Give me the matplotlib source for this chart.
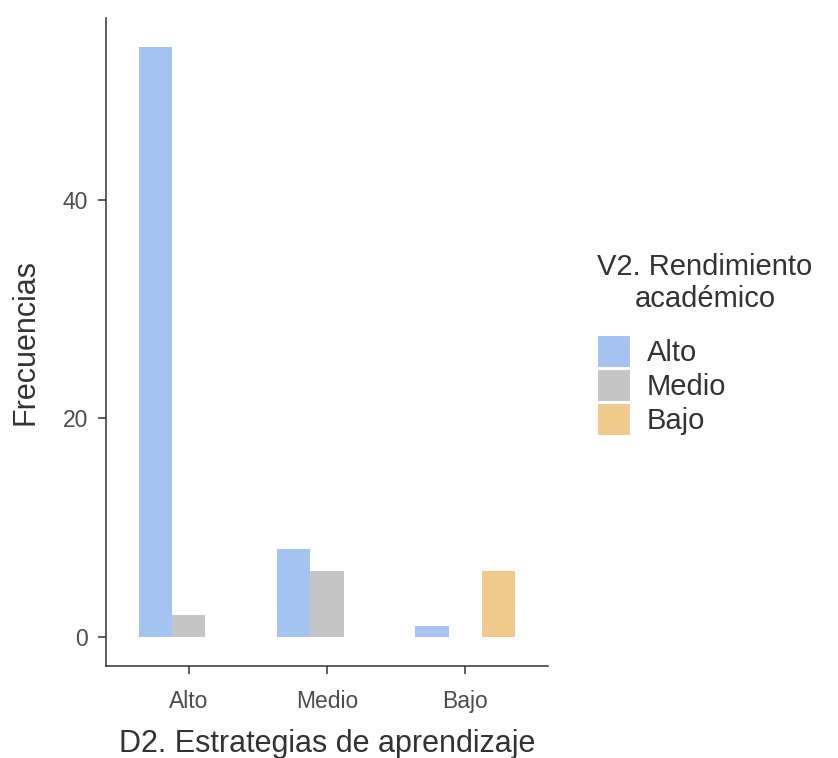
import numpy as np
import matplotlib.pyplot as plt
from matplotlib.patches import Patch

# Data
categorias = ['Alto', 'Medio', 'Bajo']          # D2. Estrategias de aprendizaje
alto = [54, 8, 1]                               # V2 = Alto
medio = [2, 6, 0]                               # V2 = Medio
bajo = [0, 0, 6]                                # V2 = Bajo
niveles = ['Alto', 'Medio', 'Bajo']
colores = ['#a4c3f0', '#c5c5c5', '#efca8a']

plt.rcParams['font.family'] = ['Liberation Sans', 'DejaVu Sans']

fig = plt.figure(figsize=(8.38, 7.58), dpi=100)
ax = fig.add_axes([0.1265, 0.1214, 0.5275, 0.855])

x = np.arange(1, len(categorias) + 1)
w = 0.24
for i, (serie, col) in enumerate(zip([alto, medio, bajo], colores)):
    ax.bar(x + (i - 1) * w, serie, width=w, color=col, linewidth=0)

ax.set_xlim(0.4, 3.6)
ax.set_ylim(-2.7, 56.7)
ax.set_xticks(x)
ax.set_xticklabels(categorias)
ax.set_yticks([0, 20, 40])

for s in ['top', 'right']:
    ax.spines[s].set_visible(False)
for s in ['left', 'bottom']:
    ax.spines[s].set_color('#333333')
    ax.spines[s].set_linewidth(1.1)
ax.tick_params(colors='#333333', labelcolor='#4d4d4d', labelsize=16.5, length=6, width=1.1, pad=7)
ax.tick_params(axis='x', pad=11)

ax.set_xlabel('D2. Estrategias de aprendizaje', fontsize=22, color='#333333', labelpad=12)
ax.set_ylabel('Frecuencias', fontsize=22, color='#333333', labelpad=16)

handles = [Patch(facecolor=c, edgecolor='white', linewidth=0.8) for c in colores]
leg = fig.legend(handles, niveles, title='V2. Rendimiento\nacadémico',
                 loc='center left', bbox_to_anchor=(0.713, 0.546), frameon=False,
                 fontsize=21, title_fontsize=21, handlelength=1.1, handleheight=1.31,
                 labelspacing=0.07, handletextpad=0.6, borderpad=0, borderaxespad=0,
                 alignment='left')
leg._legend_box.sep = 16
leg.get_title().set_multialignment('center')
leg.get_title().set_color('#333333')
for t in leg.get_texts():
    t.set_color('#333333')

fig.savefig('out.png', dpi=100)
